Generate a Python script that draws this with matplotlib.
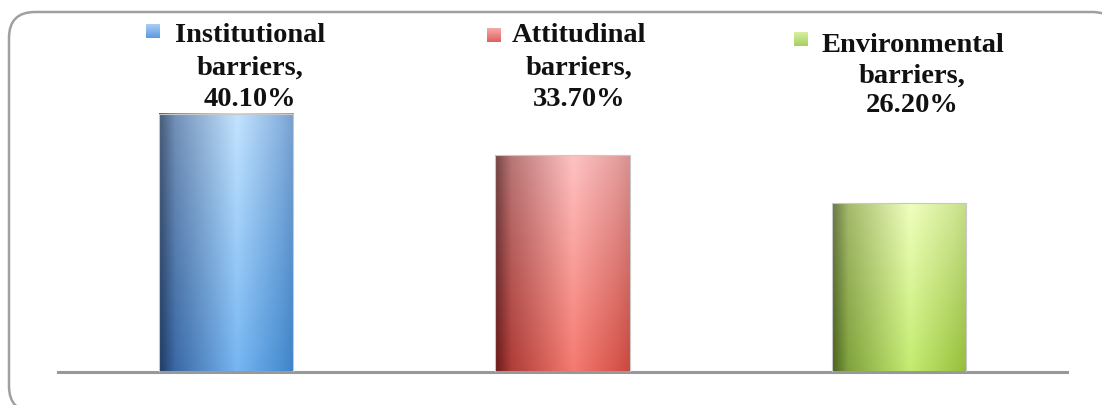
import numpy as np
import matplotlib
matplotlib.use("Agg")
import matplotlib.pyplot as plt
from matplotlib.patches import FancyBboxPatch

# ---- data ----
categories = ["Institutional barriers", "Attitudinal barriers", "Environmental barriers"]
values = [40.10, 33.70, 26.20]

# ---- style ----
W, H = 1102, 405
fig = plt.figure(figsize=(W / 100, H / 100), dpi=100)
fig.patch.set_facecolor("white")

def fx(px):
    return px / W

def fy(py):
    return 1 - py / H

# overlay axes in pixel coordinates (y measured from bottom)
ov = fig.add_axes([0, 0, 1, 1], zorder=0)
ov.set_xlim(0, W)
ov.set_ylim(0, H)
ov.axis("off")
border = FancyBboxPatch((9, H - 412), 1118 - 9, 412 - 12,
                        boxstyle="round,pad=0,rounding_size=26",
                        facecolor="white", edgecolor="#a0a0a0", linewidth=1.8,
                        clip_on=False, zorder=0)
ov.add_patch(border)

ax_left, ax_right, ax_bottom, ax_top = 58, 1067, 372, 20
ax = fig.add_axes([fx(ax_left), fy(ax_bottom), fx(ax_right) - fx(ax_left), fy(ax_top) - fy(ax_bottom)], zorder=1)
ax.set_facecolor("none")
px_per_unit = 6.435
ymax = (ax_bottom - ax_top) / px_per_unit

x = np.arange(len(categories))
bars = ax.bar(x, values, width=0.4, facecolor="none", edgecolor="#c8c8c8", linewidth=0.8, zorder=3)

# gradient stops: (t, top colour, bottom colour)
grad = [
    [(0.0, (70, 90, 120), (30, 58, 98)),
     (0.12, (115, 145, 185), (58, 105, 165)),
     (0.58, (195, 228, 255), (118, 182, 242)),
     (0.9, (140, 180, 225), (75, 145, 212)),
     (1.0, (120, 160, 205), (62, 130, 200))],
    [(0.0, (115, 68, 68), (105, 25, 25)),
     (0.12, (185, 118, 118), (175, 60, 55)),
     (0.58, (255, 195, 195), (245, 122, 112)),
     (0.9, (230, 160, 160), (215, 85, 75)),
     (1.0, (215, 145, 145), (200, 72, 62))],
    [(0.0, (105, 120, 68), (72, 98, 30)),
     (0.12, (165, 186, 108), (128, 162, 60)),
     (0.58, (240, 255, 190), (196, 236, 112)),
     (0.9, (210, 232, 150), (160, 200, 70)),
     (1.0, (195, 220, 135), (148, 188, 58))],
]

def make_grad(stops, nx=200, ny=200):
    t = np.linspace(0, 1, nx)
    ts = [s[0] for s in stops]
    top = np.stack([np.interp(t, ts, [s[1][c] for s in stops]) for c in range(3)], axis=-1)
    bot = np.stack([np.interp(t, ts, [s[2][c] for s in stops]) for c in range(3)], axis=-1)
    v = np.linspace(0, 1, ny)[:, None, None]
    img = top[None, :, :] * (1 - v) + bot[None, :, :] * v
    return img / 255.0

for b, stops in zip(bars, grad):
    x0 = b.get_x()
    x1 = x0 + b.get_width()
    h = b.get_height()
    ax.imshow(make_grad(stops), extent=(x0, x1, 0, h), origin="upper", aspect="auto", zorder=2)

ax.set_xlim(-0.5, len(categories) - 0.5)
ax.set_ylim(0, ymax)
for s in ["top", "right", "left"]:
    ax.spines[s].set_visible(False)
ax.spines["bottom"].set_color("#989898")
ax.spines["bottom"].set_linewidth(2.2)
ax.set_xticks([])
ax.set_yticks([])

# labels with legend squares
label_cx = [250, 579.5, 912.5]
label_y = [[35, 68, 100], [35, 68, 99], [45, 76, 106]]
sq_pos = [(146, 24), (487, 28), (794, 32)]
sq_top = ["#a9cdf5", "#f4a9a9", "#d6ef9e"]
sq_bot = ["#5f9ae0", "#e26060", "#a8d060"]
font = dict(family=["Liberation Serif", "DejaVu Serif"], weight="bold", size=20.5, color="#111111")
for i, (cat, val) in enumerate(zip(categories, values)):
    words = cat.split(" ")
    lines = [words[0], words[1] + ",", f"{val:.2f}%"]
    for line, yy in zip(lines, label_y[i]):
        ov.text(label_cx[i], H - yy, line, ha="center", va="center", zorder=4, **font)
    sx, sy = sq_pos[i]
    c0 = np.array(matplotlib.colors.to_rgb(sq_top[i]))
    c1 = np.array(matplotlib.colors.to_rgb(sq_bot[i]))
    v = np.linspace(0, 1, 20)[:, None, None]
    img = c0[None, None, :] * (1 - v) + c1[None, None, :] * v
    img = np.repeat(img, 20, axis=1)
    ov.imshow(img, extent=(sx, sx + 14, H - sy - 14, H - sy), origin="upper", aspect="auto", zorder=3)

ov.set_xlim(0, W)
ov.set_ylim(0, H)

fig.savefig("out.png", dpi=100)
